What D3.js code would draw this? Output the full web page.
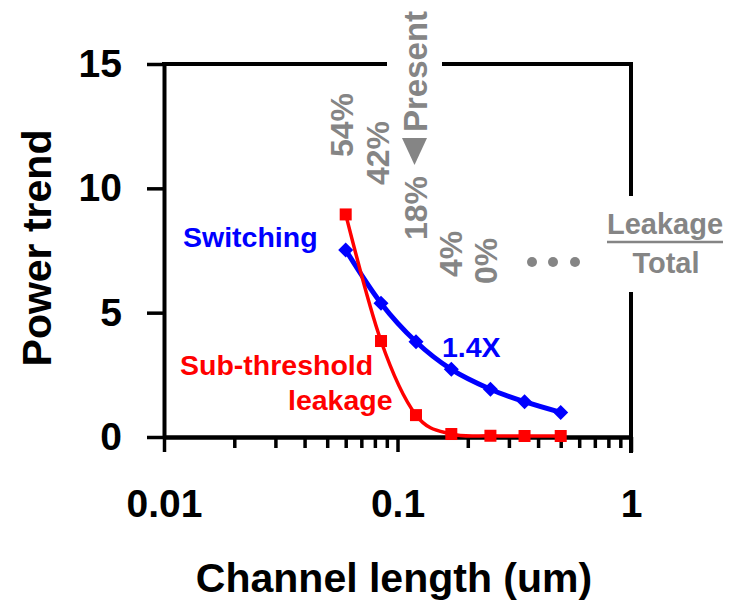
<!DOCTYPE html>
<html>
<head>
<meta charset="utf-8">
<script src="https://cdn.jsdelivr.net/npm/d3@7"></script>
<style>
  body { margin: 0; background: #fff; }
  text { font-family: "Liberation Sans", Arial, sans-serif; font-weight: bold; }
</style>
</head>
<body>
<div id="chart"></div>
<script>
// ____DATA____//
const channelLength = [0.06, 0.085, 0.12, 0.17, 0.25, 0.35, 0.5]
const switching = [7.52, 5.38, 3.83, 2.72, 1.92, 1.42, 0.99]
const leakage = [8.95, 3.86, 0.88, 0.12, 0.05, 0.04, 0.04]
const yTicks = [0, 5, 10, 15]
const xMajorTicks = [0.01, 0.1, 1]
const xMinorTicks = [0.02, 0.03, 0.04, 0.05, 0.06, 0.07, 0.08, 0.09,
                     0.2, 0.3, 0.4, 0.5, 0.6, 0.7, 0.8, 0.9]
// leakage / total ratio labels (rotated, gray)
const ratioLabels = [
    {text: "54%", x: 353, y: 157},
    {text: "42%", x: 389, y: 185},
    {text: "18%", x: 427, y: 240},
    {text: "4%", x: 462, y: 277},
    {text: "0%", x: 497, y: 284}
]

const W = 731, H = 601
const GRAY = "#858585"

const svg = d3.select("#chart").append("svg")
    .attr("width", W)
    .attr("height", H)

const x = d3.scaleLog().domain([0.01, 1]).range([164, 631])
const y = d3.scaleLinear().domain([0, 15]).range([437, 64])

//____AXES____//
const yAxis = svg.append("g")
    .attr("transform", `translate(${x(0.01)},0)`)
    .call(d3.axisLeft(y).tickValues(yTicks).tickSize(17).tickSizeOuter(0).tickPadding(25))

const xMinor = svg.append("g")
    .attr("transform", `translate(0,${y(0)})`)
    .call(d3.axisBottom(x).tickValues(xMinorTicks).tickSize(11).tickSizeOuter(0).tickFormat(""))

const xAxis = svg.append("g")
    .attr("transform", `translate(0,${y(0)})`)
    .call(d3.axisBottom(x).tickValues(xMajorTicks).tickSize(15).tickSizeOuter(0).tickPadding(37)
        .tickFormat(d => d3.format("~g")(d)))

svg.selectAll(".domain").attr("stroke-width", 4).attr("stroke", "#000")
svg.selectAll(".tick line").attr("stroke-width", 3.5).attr("stroke", "#000")
svg.selectAll(".tick text")
    .attr("fill", "#000")
    .style("font-size", "39px")
    .style("font-family", "'Liberation Sans', Arial, sans-serif")
    .style("font-weight", "bold")

// frame on top / right, broken around the "Present" label and the legend
const frame = svg.append("g")
    .attr("stroke", "#000")
    .attr("stroke-width", 4)
    .attr("stroke-linecap", "square")

frame.append("line").attr("x1", x(0.01)).attr("x2", 385).attr("y1", y(15)).attr("y2", y(15))
frame.append("line").attr("x1", 444).attr("x2", x(1)).attr("y1", y(15)).attr("y2", y(15))
frame.append("line").attr("x1", x(1)).attr("x2", x(1)).attr("y1", y(15)).attr("y2", 194)
frame.append("line").attr("x1", x(1)).attr("x2", x(1)).attr("y1", 294).attr("y2", y(0) + 14)

//____AXIS TITLES____//
svg.append("text")
    .attr("transform", "translate(51,248) rotate(-90)")
    .attr("text-anchor", "middle")
    .style("font-size", "41px")
    .text("Power trend")

svg.append("text")
    .attr("x", 394)
    .attr("y", 592)
    .attr("text-anchor", "middle")
    .style("font-size", "41px")
    .text("Channel length (um)")

//____SERIES____//
const pts = vals => channelLength.map((c, i) => [x(c), y(vals[i])])
const line = d3.line().curve(d3.curveCatmullRom.alpha(0))

svg.append("path")
    .attr("d", line(pts(switching)))
    .attr("fill", "none")
    .attr("stroke", "#0000ff")
    .attr("stroke-width", 5)

svg.append("path")
    .attr("d", line(pts(leakage)))
    .attr("fill", "none")
    .attr("stroke", "#ff0000")
    .attr("stroke-width", 3.5)

svg.append("g").selectAll("path")
    .data(pts(switching))
    .join("path")
    .attr("transform", d => `translate(${d[0]},${d[1]})`)
    .attr("d", "M0,-7.5L7.5,0L0,7.5L-7.5,0Z")
    .attr("fill", "#0000ff")

svg.append("g").selectAll("rect")
    .data(pts(leakage))
    .join("rect")
    .attr("x", d => d[0] - 6)
    .attr("y", d => d[1] - 6)
    .attr("width", 12)
    .attr("height", 12)
    .attr("fill", "#ff0000")

//____SERIES LABELS____//
svg.append("text").attr("x", 183).attr("y", 247)
    .attr("fill", "#0000ff").style("font-size", "28.5px").text("Switching")
svg.append("text").attr("x", 442).attr("y", 357)
    .attr("fill", "#0000ff").style("font-size", "28.5px").text("1.4X")
svg.append("text").attr("x", 180).attr("y", 375)
    .attr("fill", "#ff0000").style("font-size", "28.5px").text("Sub-threshold")
svg.append("text").attr("x", 288).attr("y", 410)
    .attr("fill", "#ff0000").style("font-size", "28.5px").text("leakage")

//____RATIO ANNOTATIONS____//
svg.append("g").selectAll("text")
    .data(ratioLabels)
    .join("text")
    .attr("transform", d => `translate(${d.x},${d.y}) rotate(-90)`)
    .attr("fill", GRAY)
    .style("font-size", "32px")
    .text(d => d.text)

svg.append("path")
    .attr("d", "M402,138L427,138L414.5,165Z")
    .attr("fill", GRAY)

svg.append("text")
    .attr("transform", "translate(427,132) rotate(-90)")
    .attr("fill", GRAY)
    .style("font-size", "33px")
    .text("Present")

svg.append("g").selectAll("circle")
    .data([532, 553, 575])
    .join("circle")
    .attr("cx", d => d)
    .attr("cy", 262)
    .attr("r", 5)
    .attr("fill", GRAY)

svg.append("text").attr("x", 665).attr("y", 234)
    .attr("text-anchor", "middle").attr("fill", GRAY)
    .style("font-size", "29px").text("Leakage")
svg.append("line")
    .attr("x1", 607).attr("x2", 723).attr("y1", 242).attr("y2", 242)
    .attr("stroke", GRAY).attr("stroke-width", 2.5)
svg.append("text").attr("x", 666).attr("y", 273)
    .attr("text-anchor", "middle").attr("fill", GRAY)
    .style("font-size", "29px").text("Total")
</script>
</body>
</html>
